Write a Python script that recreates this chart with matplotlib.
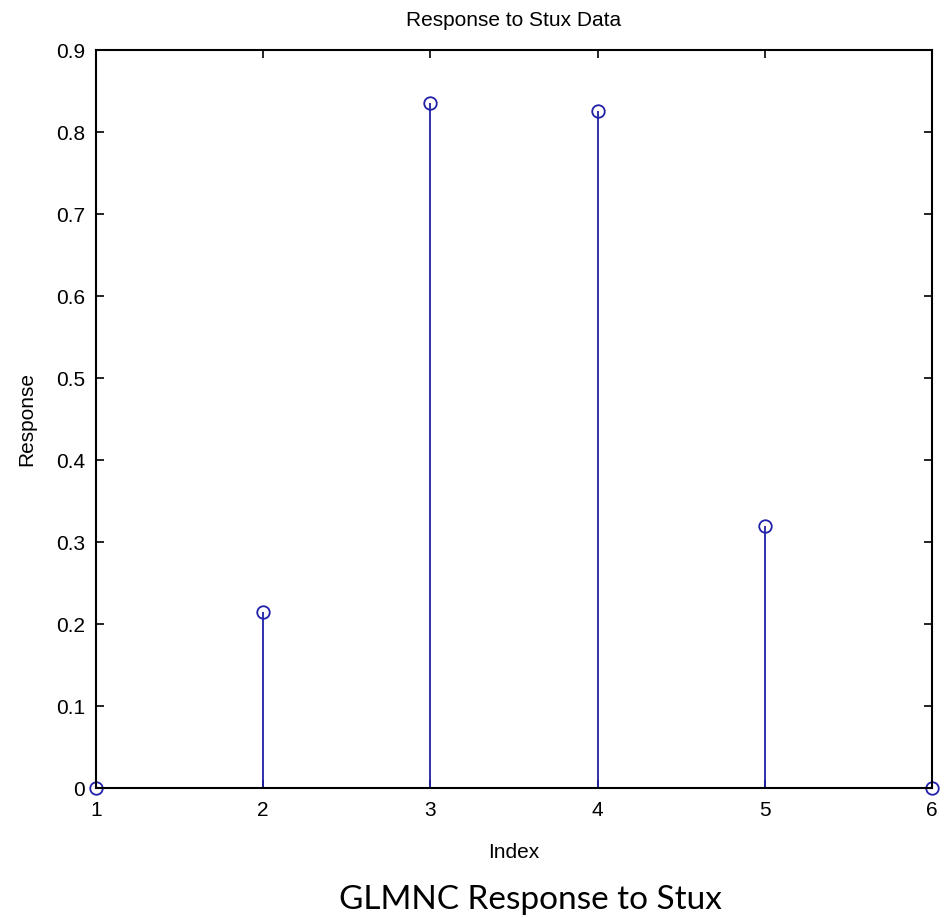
import matplotlib.pyplot as plt

index = [1, 2, 3, 4, 5, 6]
response = [0.0, 0.215, 0.835, 0.826, 0.319, 0.0]
yticks = [0, 0.1, 0.2, 0.3, 0.4, 0.5, 0.6, 0.7, 0.8, 0.9]
ytick_labels = ["0", "0.1", "0.2", "0.3", "0.4", "0.5", "0.6", "0.7", "0.8", "0.9"]

matlab_font = ['Liberation Sans Narrow', 'Liberation Sans', 'DejaVu Sans']
plt.rcParams['font.family'] = matlab_font

fig = plt.figure(figsize=(9.46, 9.18), dpi=100)
ax = fig.add_axes([96 / 946, 1 - 788 / 918, (932 - 96) / 946, (788 - 50) / 918])

stem_color = '#2020a8'
markers, stems, base = ax.stem(index, response, linefmt='-', markerfmt='o', basefmt=' ')
plt.setp(stems, color=stem_color, linewidth=1.3)
plt.setp(markers, markerfacecolor='none', markeredgecolor=stem_color,
         markersize=9, markeredgewidth=1.3, clip_on=False)

ax.set_xlim(1, 6)
ax.set_ylim(0, 0.9)
ax.set_xticks(index)
ax.set_yticks(yticks)
ax.set_yticklabels(ytick_labels)
ax.tick_params(direction='in', length=6, width=1.2, labelsize=15,
               top=True, right=True)
ax.tick_params(axis='x', pad=9)
ax.tick_params(axis='y', pad=8)
for s in ax.spines.values():
    s.set_linewidth(1.5)

ax.set_title("Response to Stux Data", fontsize=15, pad=17)
ax.set_xlabel("Index", fontsize=15, labelpad=17)
ax.set_ylabel("Response", fontsize=15, labelpad=14)

fig.text(530 / 946, 1 - 900 / 918, "GLMNC Response to Stux", ha='center', va='center',
         fontsize=24, family=['Lato', 'DejaVu Sans'])

fig.savefig("out.png", dpi=100)
